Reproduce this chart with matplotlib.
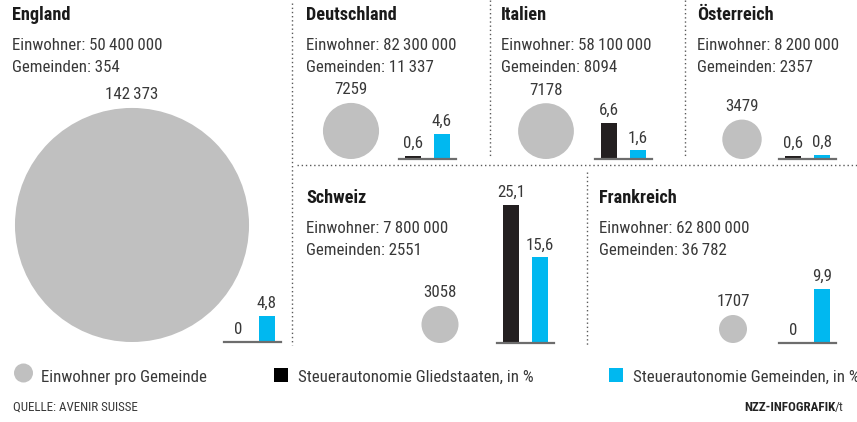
import os
import matplotlib.pyplot as plt
from matplotlib import font_manager as fm
from matplotlib.patches import Circle, Rectangle
from matplotlib.textpath import TextToPath

W, H = 857, 422

countries = ['England', 'Deutschland', 'Italien', 'Österreich', 'Schweiz', 'Frankreich']
einwohner = [50400000, 82300000, 58100000, 8200000, 7800000, 62800000]
gemeinden = [354, 11337, 8094, 2357, 2551, 36782]
pro_gemeinde = [142373, 7259, 7178, 3479, 3058, 1707]
auto_glied = [0, 0.6, 6.6, 0.6, 25.1, 0]    # Steuerautonomie Gliedstaaten, in %
auto_gem = [4.8, 4.6, 1.6, 0.8, 15.6, 9.9]  # Steuerautonomie Gemeinden, in %

# panel layout in pixels: text x, title baseline, circle centre x, baseline y, bar group left
layout = [
    (12, 20, 132, 342, 224),
    (306, 20, 351, 159, 399),
    (501, 20, 546, 159, 595),
    (697, 20, 742, 159, 779),
    (306, 203, 440, 343, 497),
    (599, 203, 733, 343, 779),
]

GREY = '#c0c0c0'
BLACK = '#231f20'
BLUE = '#00b8f0'
TXT = '#383838'
PX_PER_PCT = 5.5


# the original uses a condensed grotesque -> look for a narrow font file
def find_font(bold):
    prefs = ['LiberationSansNarrow', 'RobotoCondensed', 'NotoSans-Condensed',
             'OpenSansCondensed', 'OpenSans_Condensed', 'DejaVuSansCondensed']
    ok = {'-Bold', 'Bold'} if bold else {'', '-Regular', 'Regular'}
    for p in prefs:
        for f in fm.fontManager.ttflist:
            base = os.path.splitext(os.path.basename(f.fname))[0]
            if base.startswith(p) and base[len(p):] in ok:
                return fm.FontProperties(fname=f.fname)
    return fm.FontProperties(family='Liberation Sans', weight='bold' if bold else 'normal')


reg = find_font(False)
bold = find_font(True)

# pick the size so the text runs as wide as in the original
probe = reg.copy()
probe.set_size(12)
w_pt = TextToPath().get_text_width_height_descent('Einwohner: 7\u2009800\u2009000', probe, ismath=False)[0]
SIZE = min(13, max(10, 12 * 142 / (w_pt * 100 / 72)))


def fmt_int(v):
    if v < 10000:
        return str(v)
    return f'{v:,}'.replace(',', '\u2009')


def fmt_pct(v):
    return '0' if v == 0 else f'{v:.1f}'.replace('.', ',')


def circle_diam(v):
    return 28 * (v / 1707) ** 0.48


fig = plt.figure(figsize=(W / 100, H / 100), dpi=100)
bg = fig.add_axes([0, 0, 1, 1])
bg.set_xlim(0, W)
bg.set_ylim(H, 0)
bg.axis('off')

# dotted separators
dot = dict(color='#5a5a5a', lw=1.0, ls=(0, (1, 2)))
bg.plot([292, 292], [3, 345], **dot)
bg.plot([490, 490], [0, 158], **dot)
bg.plot([685, 685], [0, 158], **dot)
bg.plot([297, W], [165, 165], **dot)
bg.plot([587, 587], [172, 345], **dot)

for i, name in enumerate(countries):
    tx, ty, cx, base, bx = layout[i]
    bg.text(tx, ty, name, fontproperties=bold, fontsize=SIZE * 1.08, color='#1a1a1a', va='baseline')
    bg.text(tx, ty + 30, 'Einwohner: ' + fmt_int(einwohner[i]), fontproperties=reg,
            fontsize=SIZE, color=TXT, va='baseline')
    bg.text(tx, ty + 52, 'Gemeinden: ' + fmt_int(gemeinden[i]), fontproperties=reg,
            fontsize=SIZE, color=TXT, va='baseline')

    d = circle_diam(pro_gemeinde[i])
    bg.add_patch(Circle((cx, base - d / 2), d / 2, color=GREY, lw=0))
    bg.text(cx, base - d - 8.5, fmt_int(pro_gemeinde[i]), fontproperties=reg, fontsize=SIZE,
            color=TXT, ha='center', va='baseline')

    ax = fig.add_axes([bx / W, 1 - base / H, 57 / W, 150 / H])
    ax.set_xlim(-0.483, 1.483)
    ax.set_ylim(0, 150 / PX_PER_PCT)
    ax.axis('off')
    bars = ax.bar([0, 1], [auto_glied[i], auto_gem[i]], width=0.55, color=[BLACK, BLUE])
    ax.bar_label(bars, labels=[fmt_pct(auto_glied[i]), fmt_pct(auto_gem[i])],
                 padding=3.5, fontproperties=reg, fontsize=SIZE, color=TXT)
    ax.axhline(0, color='#6d6d6d', lw=1.6, zorder=3, clip_on=False)

# legend
bg.add_patch(Circle((23.5, 373), 9.5, color=GREY, lw=0))
bg.text(41, 382, 'Einwohner pro Gemeinde', fontproperties=reg, fontsize=SIZE, color=TXT, va='baseline')
bg.add_patch(Rectangle((274, 368), 14, 14, color='black', lw=0))
bg.text(298, 382, 'Steuerautonomie Gliedstaaten, in %', fontproperties=reg, fontsize=SIZE,
        color=TXT, va='baseline')
bg.add_patch(Rectangle((609, 368), 14, 14, color=BLUE, lw=0))
bg.text(633, 382, 'Steuerautonomie Gemeinden, in %', fontproperties=reg, fontsize=SIZE,
        color=TXT, va='baseline')

# footer
bg.text(13, 411, 'QUELLE: AVENIR SUISSE', fontproperties=reg, fontsize=SIZE * 0.77,
        color=TXT, va='baseline')
nzz = bg.text(744, 411, 'NZZ-INFOGRAFIK', fontproperties=bold, fontsize=SIZE * 0.77,
              color='#222222', va='baseline')
bg.annotate('/t', xy=(1, 0), xycoords=nzz, fontproperties=reg, fontsize=SIZE * 0.77,
            color=TXT, va='bottom', ha='left', annotation_clip=False)

fig.savefig('out.png', dpi=100)
